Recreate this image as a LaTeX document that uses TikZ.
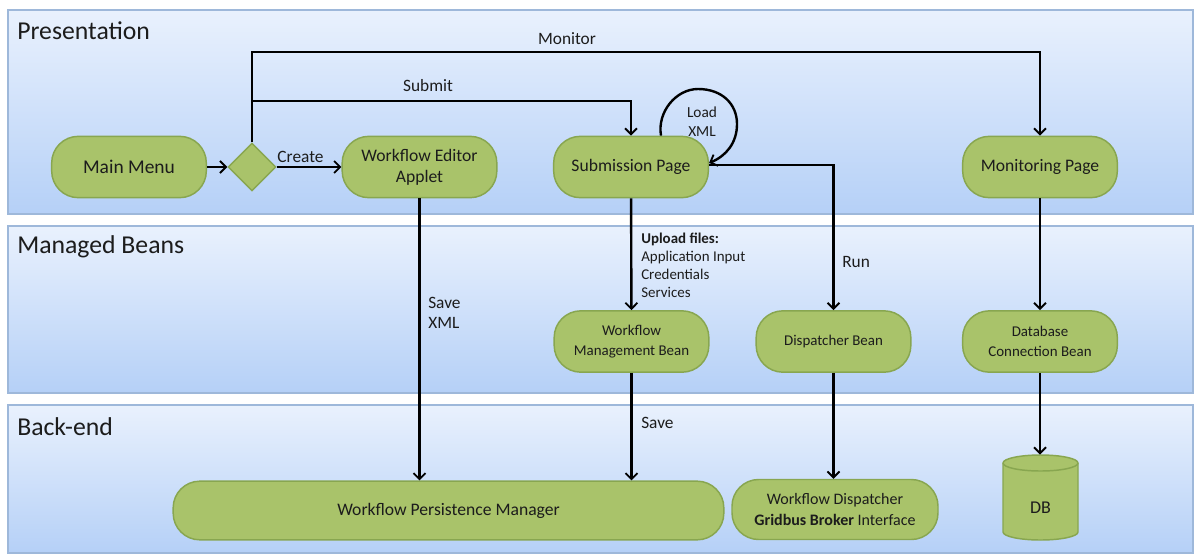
\documentclass[tikz,border=0pt]{standalone}
\usepackage{fontspec}
\setmainfont{Carlito}
\usetikzlibrary{arrows.meta,shapes.geometric}
\definecolor{laneTop}{RGB}{233,241,253}
\definecolor{laneBot}{RGB}{181,208,247}
\definecolor{laneEdge}{RGB}{158,184,218}
\definecolor{boxFill}{RGB}{169,195,106}
\definecolor{boxEdge}{RGB}{136,166,80}
\definecolor{ink}{RGB}{28,28,28}
\begin{document}
\begin{tikzpicture}[x=0.75pt,y=-0.75pt,
  lane/.style={draw=laneEdge, line width=0.9pt, top color=laneTop, bottom color=laneBot},
  lanetitle/.style={anchor=west, font=\fontsize{19.3}{22}\selectfont, text=ink, inner sep=0pt},
  act/.style={draw=boxEdge, fill=boxFill, line width=1.1pt, rounded corners=20pt,
    align=center, text=ink, inner sep=0pt, minimum width=116pt, minimum height=46pt,
    font=\fontsize{13.2}{16}\selectfont},
  bean/.style={act, font=\fontsize{11.2}{14.5}\selectfont},
  lbl/.style={text=ink, inner sep=0pt, font=\fontsize{13}{15.5}\selectfont},
  flow/.style={line width=1.8pt, draw=black, -{Straight Barb[length=4.5pt,width=9pt,line width=1.4pt]}}
]
\useasboundingbox (0,0) rectangle (1195,554);
\fill[white] (0,0) rectangle (1195,554);

% swim lanes
\draw[lane] (8,10) rectangle (1193,214);
\draw[lane] (8,226) rectangle (1193,393);
\draw[lane] (8,405) rectangle (1193,553);
\node[lanetitle] (tpres) at (17,31) {Presentation};
\node[lanetitle] (tbeans) at (17,247) {Managed Beans};
\node[lanetitle] (tback) at (17,427) {Back-end};

% presentation layer
\node[act, font=\fontsize{14.6}{17}\selectfont] (menu) at (129,167) {Main Menu};
\node[draw=boxEdge, fill=boxFill, line width=1.1pt, diamond, aspect=1, inner sep=0pt,
      minimum width=36pt, minimum height=36pt] (dec) at (252,167) {};
\node[act] (editor) at (419.5,167) {Workflow Editor\\Applet};
\node[act] (sub) at (631,167) {Submission Page};
\node[act] (mon) at (1040,167) {Monitoring Page};

% managed beans
\node[bean] (wmb) at (631.5,341.5) {Workflow\\Management Bean};
\node[bean] (disp) at (833.5,341.5) {Dispatcher Bean};
\node[bean] (dbc) at (1040,341.5) {Database\\Connection Bean};

% back-end
\node[act, minimum width=413pt, minimum height=44pt] (wpm) at (448.5,510.5)
  {Workflow Persistence Manager};
\node[bean, minimum width=154.5pt, minimum height=45pt, font=\fontsize{12}{15.5}\selectfont]
  (gbi) at (835,509.5) {Workflow Dispatcher\\\textbf{Gridbus Broker} Interface};

% database cylinder
\draw[draw=boxEdge, fill=boxFill, line width=1.1pt]
  (1003,463) -- (1003,532) arc (180:0:37.5 and 8) -- (1078,463) arc (0:-180:37.5 and 8) -- cycle;
\draw[draw=boxEdge, line width=1.1pt] (1003,463) arc (180:0:37.5 and 8);
\node[inner sep=0pt, minimum width=56pt, minimum height=64pt] (db) at (1040.5,497.5) {};
\node[lbl, font=\fontsize{13.5}{15}\selectfont] (dbtext) at (1040.5,508) {DB};

% connectors
\coordinate (split) at (252,101);
\draw[flow] (menu) -- (dec);
\draw[flow] (dec) -- (editor);
\node[lbl] (lcreate) at (300.5,157) {Create};
\draw[flow] (dec.north) -- ++(0,-90) -| (mon.north);
\node[lbl] (lmonitor) at (567,39) {Monitor};
\draw[flow] (split) -| (sub.north);
\node[lbl] (lsubmit) at (428,86) {Submit};

\draw[flow] ([xshift=22.5pt]sub.north)
  .. controls (657,112) and (676,89) .. (698,89)
  .. controls (722,89) and (737,104) .. (737,124)
  .. controls (737,143) and (726,156) .. ([yshift=3pt]sub.east);
\node[lbl, align=center, font=\fontsize{11.5}{14.5}\selectfont] (lload) at (702,121.5) {Load\\XML};

\draw[flow] ([yshift=1.5pt]sub.east) -| (disp.north);
\node[lbl, anchor=west] (lrun) at (842,262) {Run};

\draw[flow] (sub) -- (wmb);
\node[lbl, anchor=north west, align=left, font=\fontsize{11.2}{13.5}\selectfont] (lupload) at (641,233)
  {\textbf{Upload files:}\\Application Input\\Credentials\\Services};

\draw[flow] (editor) -- (editor |- wpm.north);
\node[lbl, align=left, anchor=west] (lsavexml) at (428,313) {Save\\XML};

\draw[flow] (wmb) -- (wmb |- wpm.north);
\node[lbl, anchor=west] (lsave) at (641,423) {Save};

\draw[flow] (disp) -- (disp |- gbi.north);
\draw[flow] (mon) -- (dbc);
\draw[flow] (dbc) -- (dbc |- db.north);
\end{tikzpicture}
\end{document}
